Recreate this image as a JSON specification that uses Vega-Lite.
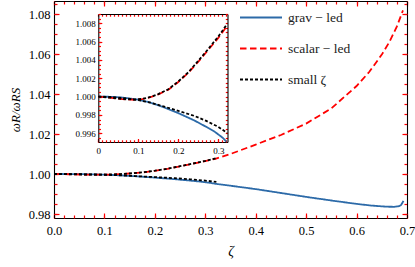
{
  "$schema": "https://vega.github.io/schema/vega-lite/v6.json",
  "width": 353,
  "height": 217,
  "autosize": {"type": "none"},
  "padding": {"left": 54, "top": 1, "right": 8, "bottom": 49},
  "config": {
    "view": {"stroke": null},
    "font": "Liberation Serif",
    "axis": {"grid": false, "domainColor": "black", "tickColor": "red", "labelColor": "black", "titleColor": "black", "domainWidth": 1.1, "tickWidth": 1.2, "labelFont": "Liberation Serif", "titleFont": "Liberation Serif", "labelFlush": false, "labelOverlap": false, "titleFontWeight": "normal"},
    "legend": {"labelFont": "Liberation Serif"}
  },
  "data": {"values": [
    {"series": "grav − led", "curve": "g", "zeta": 0, "omega": 1.0},
    {"series": "grav − led", "curve": "g", "zeta": 0.03, "omega": 0.99998},
    {"series": "grav − led", "curve": "g", "zeta": 0.06, "omega": 0.9999},
    {"series": "grav − led", "curve": "g", "zeta": 0.1, "omega": 0.99967},
    {"series": "grav − led", "curve": "g", "zeta": 0.13, "omega": 0.99935},
    {"series": "grav − led", "curve": "g", "zeta": 0.16, "omega": 0.9989},
    {"series": "grav − led", "curve": "g", "zeta": 0.2, "omega": 0.9982},
    {"series": "grav − led", "curve": "g", "zeta": 0.24, "omega": 0.9974},
    {"series": "grav − led", "curve": "g", "zeta": 0.27, "omega": 0.9967},
    {"series": "grav − led", "curve": "g", "zeta": 0.29, "omega": 0.9962},
    {"series": "grav − led", "curve": "g", "zeta": 0.31, "omega": 0.99555},
    {"series": "grav − led", "curve": "g", "zeta": 0.32, "omega": 0.9951},
    {"series": "grav − led", "curve": "g", "zeta": 0.33, "omega": 0.9948},
    {"series": "grav − led", "curve": "g", "zeta": 0.36, "omega": 0.9938},
    {"series": "grav − led", "curve": "g", "zeta": 0.4, "omega": 0.99245},
    {"series": "grav − led", "curve": "g", "zeta": 0.45, "omega": 0.9905},
    {"series": "grav − led", "curve": "g", "zeta": 0.5, "omega": 0.98855},
    {"series": "grav − led", "curve": "g", "zeta": 0.55, "omega": 0.98675},
    {"series": "grav − led", "curve": "g", "zeta": 0.6, "omega": 0.98505},
    {"series": "grav − led", "curve": "g", "zeta": 0.63, "omega": 0.9842},
    {"series": "grav − led", "curve": "g", "zeta": 0.66, "omega": 0.98365},
    {"series": "grav − led", "curve": "g", "zeta": 0.675, "omega": 0.9836},
    {"series": "grav − led", "curve": "g", "zeta": 0.684, "omega": 0.9839},
    {"series": "grav − led", "curve": "g", "zeta": 0.688, "omega": 0.9845},
    {"series": "grav − led", "curve": "g", "zeta": 0.691, "omega": 0.9856},
    {"series": "grav − led", "curve": "g", "zeta": 0.693, "omega": 0.9866},
    {"series": "scalar − led", "curve": "s", "zeta": 0, "omega": 1.0},
    {"series": "scalar − led", "curve": "s", "zeta": 0.03, "omega": 0.99988},
    {"series": "scalar − led", "curve": "s", "zeta": 0.06, "omega": 0.99972},
    {"series": "scalar − led", "curve": "s", "zeta": 0.09, "omega": 0.99966},
    {"series": "scalar − led", "curve": "s", "zeta": 0.11, "omega": 0.99972},
    {"series": "scalar − led", "curve": "s", "zeta": 0.13, "omega": 0.99993},
    {"series": "scalar − led", "curve": "s", "zeta": 0.15, "omega": 1.00025},
    {"series": "scalar − led", "curve": "s", "zeta": 0.175, "omega": 1.00075},
    {"series": "scalar − led", "curve": "s", "zeta": 0.2, "omega": 1.0016},
    {"series": "scalar − led", "curve": "s", "zeta": 0.225, "omega": 1.0026},
    {"series": "scalar − led", "curve": "s", "zeta": 0.25, "omega": 1.0038},
    {"series": "scalar − led", "curve": "s", "zeta": 0.275, "omega": 1.0051},
    {"series": "scalar − led", "curve": "s", "zeta": 0.3, "omega": 1.0064},
    {"series": "scalar − led", "curve": "s", "zeta": 0.32, "omega": 1.0076},
    {"series": "scalar − led", "curve": "s", "zeta": 0.35, "omega": 1.01},
    {"series": "scalar − led", "curve": "s", "zeta": 0.4, "omega": 1.0147},
    {"series": "scalar − led", "curve": "s", "zeta": 0.45, "omega": 1.0195},
    {"series": "scalar − led", "curve": "s", "zeta": 0.5, "omega": 1.0252},
    {"series": "scalar − led", "curve": "s", "zeta": 0.55, "omega": 1.0328},
    {"series": "scalar − led", "curve": "s", "zeta": 0.6, "omega": 1.044},
    {"series": "scalar − led", "curve": "s", "zeta": 0.625, "omega": 1.051},
    {"series": "scalar − led", "curve": "s", "zeta": 0.65, "omega": 1.0597},
    {"series": "scalar − led", "curve": "s", "zeta": 0.665, "omega": 1.066},
    {"series": "scalar − led", "curve": "s", "zeta": 0.68, "omega": 1.0738},
    {"series": "scalar − led", "curve": "s", "zeta": 0.692, "omega": 1.0818},
    {"series": "small ζ", "curve": "su", "zeta": 0, "omega": 1.0},
    {"series": "small ζ", "curve": "su", "zeta": 0.03, "omega": 0.99988},
    {"series": "small ζ", "curve": "su", "zeta": 0.06, "omega": 0.99973},
    {"series": "small ζ", "curve": "su", "zeta": 0.09, "omega": 0.99968},
    {"series": "small ζ", "curve": "su", "zeta": 0.11, "omega": 0.99975},
    {"series": "small ζ", "curve": "su", "zeta": 0.13, "omega": 0.99996},
    {"series": "small ζ", "curve": "su", "zeta": 0.15, "omega": 1.00028},
    {"series": "small ζ", "curve": "su", "zeta": 0.175, "omega": 1.0008},
    {"series": "small ζ", "curve": "su", "zeta": 0.2, "omega": 1.00165},
    {"series": "small ζ", "curve": "su", "zeta": 0.225, "omega": 1.00265},
    {"series": "small ζ", "curve": "su", "zeta": 0.25, "omega": 1.0039},
    {"series": "small ζ", "curve": "su", "zeta": 0.275, "omega": 1.0052},
    {"series": "small ζ", "curve": "su", "zeta": 0.3, "omega": 1.00655},
    {"series": "small ζ", "curve": "su", "zeta": 0.322, "omega": 1.0079},
    {"series": "small ζ", "curve": "sl", "zeta": 0, "omega": 1.0},
    {"series": "small ζ", "curve": "sl", "zeta": 0.03, "omega": 0.99996},
    {"series": "small ζ", "curve": "sl", "zeta": 0.06, "omega": 0.99986},
    {"series": "small ζ", "curve": "sl", "zeta": 0.1, "omega": 0.99962},
    {"series": "small ζ", "curve": "sl", "zeta": 0.13, "omega": 0.99935},
    {"series": "small ζ", "curve": "sl", "zeta": 0.16, "omega": 0.99897},
    {"series": "small ζ", "curve": "sl", "zeta": 0.2, "omega": 0.99845},
    {"series": "small ζ", "curve": "sl", "zeta": 0.24, "omega": 0.9979},
    {"series": "small ζ", "curve": "sl", "zeta": 0.27, "omega": 0.99735},
    {"series": "small ζ", "curve": "sl", "zeta": 0.3, "omega": 0.9967},
    {"series": "small ζ", "curve": "sl", "zeta": 0.322, "omega": 0.99605}
  ]},
  "layer": [
    {
      "layer": [
        {
          "mark": {"type": "line", "strokeCap": "butt"},
          "encoding": {
            "x": {"field": "zeta", "type": "quantitative", "scale": {"domain": [0, 0.7], "nice": false, "zero": false},
              "axis": {"orient": "bottom", "ticks": false,
                "values": [0,0.1,0.2,0.3,0.4,0.5,0.6,0.7], "format": ".1f",
                "labelPadding": 6, "labelFontSize": 12.5,
                "title": "ζ", "titleFontStyle": "italic", "titleFontSize": 14, "titlePadding": 8}},
            "y": {"field": "omega", "type": "quantitative", "scale": {"domain": [0.978, 1.0865], "nice": false, "zero": false},
              "axis": {"orient": "left", "ticks": false,
                "values": [0.98,1,1.02,1.04,1.06,1.08], "format": ".2f",
                "labelPadding": 4, "labelFontSize": 12.5,
                "title": "ωR/ωRS", "titleFontStyle": "italic", "titleFontSize": 13, "titlePadding": 6}},
            "color": {"field": "series", "type": "nominal",
              "scale": {"domain": ["grav − led", "scalar − led", "small ζ"], "range": ["#2c6aa8", "#ff0000", "#000000"]},
              "legend": {"orient": "none", "legendX": 185, "legendY": 4, "title": null, "padding": 0,
                "symbolType": "stroke", "symbolSize": 1764, "symbolStrokeWidth": 2, "clipHeight": 25, "rowPadding": 6,
                "labelFontSize": 13.5, "labelColor": "#222222", "labelOffset": 5}},
            "strokeDash": {"field": "series", "type": "nominal",
              "scale": {"domain": ["grav − led", "scalar − led", "small ζ"], "range": [[1, 0], [6.5, 3.5], [3, 2]]}},
            "strokeWidth": {"field": "series", "type": "nominal",
              "scale": {"domain": ["grav − led", "scalar − led", "small ζ"], "range": [1.8, 1.8, 2.3]}, "legend": null},
            "detail": {"field": "curve"}
          }
        },
        {
          "mark": {"type": "point", "opacity": 0},
          "encoding": {
            "x": {"datum": 0, "type": "quantitative", "scale": {"domain": [0, 0.7], "nice": false, "zero": false},
              "axis": {"orient": "top", "offset": -217, "labels": false, "title": null, "domain": false, "tickSize": 3,
                "values": [0,0.02,0.04,0.06,0.08,0.1,0.12,0.14,0.16,0.18,0.2,0.22,0.24,0.26,0.28,0.3,0.32,0.34,0.36,0.38,0.4,0.42,0.44,0.46,0.48,0.5,0.52,0.54,0.56,0.58,0.6,0.62,0.64,0.66,0.68,0.7]}},
            "y": {"datum": 1, "type": "quantitative", "scale": {"domain": [0.978, 1.0865], "nice": false, "zero": false},
              "axis": {"orient": "right", "offset": -353, "labels": false, "title": null, "domain": false, "tickSize": 3,
                "values": [0.98,0.985,0.99,0.995,1,1.005,1.01,1.015,1.02,1.025,1.03,1.035,1.04,1.045,1.05,1.055,1.06,1.065,1.07,1.075,1.08,1.085]}}
          }
        },
        {
          "mark": {"type": "point", "opacity": 0},
          "encoding": {
            "x": {"datum": 0, "type": "quantitative", "scale": {"domain": [0, 0.7], "nice": false, "zero": false},
              "axis": {"orient": "bottom", "offset": -217, "labels": false, "title": null, "tickSize": 3,
                "values": [0,0.02,0.04,0.06,0.08,0.1,0.12,0.14,0.16,0.18,0.2,0.22,0.24,0.26,0.28,0.3,0.32,0.34,0.36,0.38,0.4,0.42,0.44,0.46,0.48,0.5,0.52,0.54,0.56,0.58,0.6,0.62,0.64,0.66,0.68,0.7]}},
            "y": {"datum": 1, "type": "quantitative", "scale": {"domain": [0.978, 1.0865], "nice": false, "zero": false},
              "axis": {"orient": "left", "offset": -353, "labels": false, "title": null, "tickSize": 3,
                "values": [0.98,0.985,0.99,0.995,1,1.005,1.01,1.015,1.02,1.025,1.03,1.035,1.04,1.045,1.05,1.055,1.06,1.065,1.07,1.075,1.08,1.085]}}
          }
        },
        {
          "mark": {"type": "point", "opacity": 0},
          "encoding": {
            "x": {"datum": 0, "type": "quantitative", "scale": {"domain": [0, 0.7], "nice": false, "zero": false},
              "axis": {"orient": "top", "offset": -217, "labels": false, "title": null, "domain": false, "tickSize": 5,
                "values": [0,0.1,0.2,0.3,0.4,0.5,0.6,0.7]}},
            "y": {"datum": 1, "type": "quantitative", "scale": {"domain": [0.978, 1.0865], "nice": false, "zero": false},
              "axis": {"orient": "right", "offset": -353, "labels": false, "title": null, "domain": false, "tickSize": 5,
                "values": [0.98,1,1.02,1.04,1.06,1.08]}}
          }
        },
        {
          "mark": {"type": "point", "opacity": 0},
          "encoding": {
            "x": {"datum": 0, "type": "quantitative", "scale": {"domain": [0, 0.7], "nice": false, "zero": false},
              "axis": {"orient": "bottom", "offset": -217, "labels": false, "title": null, "domain": false, "tickSize": 5,
                "values": [0,0.1,0.2,0.3,0.4,0.5,0.6,0.7]}},
            "y": {"datum": 1, "type": "quantitative", "scale": {"domain": [0.978, 1.0865], "nice": false, "zero": false},
              "axis": {"orient": "left", "offset": -353, "labels": false, "title": null, "domain": false, "tickSize": 5,
                "values": [0.98,1,1.02,1.04,1.06,1.08]}}
          }
        }
      ],
      "resolve": {"axis": {"x": "independent", "y": "independent"}}
    },
    {
      "transform": [{"filter": "datum.zeta <= 0.323"}],
      "layer": [
        {
          "mark": {"type": "line", "strokeCap": "butt"},
          "encoding": {
            "x": {"field": "zeta", "type": "quantitative", "scale": {"domain": [0, 0.323], "range": [44.3, 173.5], "nice": false, "zero": false},
              "axis": {"orient": "bottom", "offset": -76, "ticks": false,
                "values": [0,0.1,0.2,0.3],
                "labelExpr": "datum.value==0 ? '0' : format(datum.value,'.1f')",
                "labelPadding": 4, "labelFontSize": 9, "title": null}},
            "y": {"field": "omega", "type": "quantitative", "scale": {"domain": [0.99505, 1.00901], "range": [141, 13], "nice": false, "zero": false},
              "axis": {"orient": "left", "offset": -44.3, "ticks": false,
                "values": [0.996,0.998,1,1.002,1.004,1.006,1.008], "format": ".3f",
                "labelPadding": 3, "labelFontSize": 9, "title": null}},
            "color": {"field": "series", "type": "nominal",
              "scale": {"domain": ["grav − led", "scalar − led", "small ζ"], "range": ["#2c6aa8", "#ff0000", "#000000"]}},
            "strokeDash": {"field": "series", "type": "nominal",
              "scale": {"domain": ["grav − led", "scalar − led", "small ζ"], "range": [[1, 0], [6.5, 3.5], [3, 2]]}},
            "strokeWidth": {"field": "series", "type": "nominal",
              "scale": {"domain": ["grav − led", "scalar − led", "small ζ"], "range": [1.8, 1.8, 2.3]}, "legend": null},
            "detail": {"field": "curve"}
          }
        },
        {
          "mark": {"type": "point", "opacity": 0},
          "encoding": {
            "x": {"datum": 0, "type": "quantitative", "scale": {"domain": [0, 0.323], "range": [44.3, 173.5], "nice": false, "zero": false},
              "axis": {"orient": "top", "offset": -141, "labels": false, "title": null, "domain": false, "tickSize": 2.2,
                "values": [0,0.01,0.02,0.03,0.04,0.05,0.06,0.07,0.08,0.09,0.1,0.11,0.12,0.13,0.14,0.15,0.16,0.17,0.18,0.19,0.2,0.21,0.22,0.23,0.24,0.25,0.26,0.27,0.28,0.29,0.3,0.31,0.32]}},
            "y": {"datum": 1, "type": "quantitative", "scale": {"domain": [0.99505, 1.00901], "range": [141, 13], "nice": false, "zero": false},
              "axis": {"orient": "right", "offset": -308.7, "labels": false, "title": null, "domain": false, "tickSize": 2.2,
                "values": [0.9955,0.996,0.9965,0.997,0.9975,0.998,0.9985,0.999,0.9995,1,1.0005,1.001,1.0015,1.002,1.0025,1.003,1.0035,1.004,1.0045,1.005,1.0055,1.006,1.0065,1.007,1.0075,1.008,1.0085,1.009]}}
          }
        },
        {
          "mark": {"type": "point", "opacity": 0},
          "encoding": {
            "x": {"datum": 0, "type": "quantitative", "scale": {"domain": [0, 0.323], "range": [44.3, 173.5], "nice": false, "zero": false},
              "axis": {"orient": "bottom", "offset": -204, "labels": false, "title": null, "tickSize": 2.2,
                "values": [0,0.01,0.02,0.03,0.04,0.05,0.06,0.07,0.08,0.09,0.1,0.11,0.12,0.13,0.14,0.15,0.16,0.17,0.18,0.19,0.2,0.21,0.22,0.23,0.24,0.25,0.26,0.27,0.28,0.29,0.3,0.31,0.32]}},
            "y": {"datum": 1, "type": "quantitative", "scale": {"domain": [0.99505, 1.00901], "range": [141, 13], "nice": false, "zero": false},
              "axis": {"orient": "left", "offset": -173.5, "labels": false, "title": null, "tickSize": 2.2,
                "values": [0.9955,0.996,0.9965,0.997,0.9975,0.998,0.9985,0.999,0.9995,1,1.0005,1.001,1.0015,1.002,1.0025,1.003,1.0035,1.004,1.0045,1.005,1.0055,1.006,1.0065,1.007,1.0075,1.008,1.0085,1.009]}}
          }
        },
        {
          "mark": {"type": "point", "opacity": 0},
          "encoding": {
            "x": {"datum": 0, "type": "quantitative", "scale": {"domain": [0, 0.323], "range": [44.3, 173.5], "nice": false, "zero": false},
              "axis": {"orient": "top", "offset": -141, "labels": false, "title": null, "domain": false, "tickSize": 3.5,
                "values": [0,0.1,0.2,0.3]}},
            "y": {"datum": 1, "type": "quantitative", "scale": {"domain": [0.99505, 1.00901], "range": [141, 13], "nice": false, "zero": false},
              "axis": {"orient": "right", "offset": -308.7, "labels": false, "title": null, "domain": false, "tickSize": 3.5,
                "values": [0.996,0.998,1,1.002,1.004,1.006,1.008]}}
          }
        }
      ],
      "resolve": {"axis": {"x": "independent", "y": "independent"}}
    }
  ],
  "resolve": {"scale": {"x": "independent", "y": "independent"}}
}
